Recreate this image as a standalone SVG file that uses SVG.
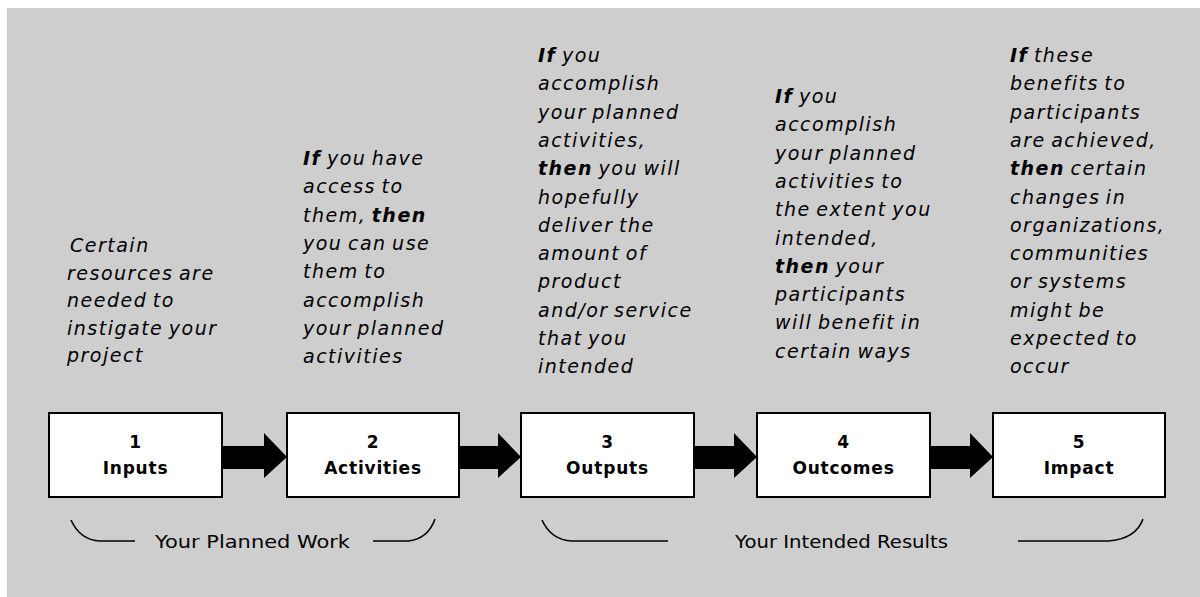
<svg xmlns="http://www.w3.org/2000/svg" width="1200" height="597" viewBox="0 0 1200 597">
<style>
.bg{fill:#cecece}
.box{fill:#ffffff;stroke:#000000;stroke-width:2}
.num{font-family:"DejaVu Sans",sans-serif;font-weight:bold;font-size:17px;letter-spacing:0.8px;text-anchor:middle;fill:#000}
.desc{font-family:"DejaVu Sans",sans-serif;font-style:italic;font-size:19px;letter-spacing:1.5px;word-spacing:-2px;fill:#000}
.desc .b{font-weight:bold}
.brace{fill:none;stroke:#000;stroke-width:1.6}
.cap{font-family:"DejaVu Sans",sans-serif;font-size:17px;fill:#000}
.arrow{fill:#000}
</style>
<rect width="1200" height="597" fill="#ffffff"/>
<rect class="bg" x="7" y="8" width="1193" height="589"/>

<g id="connectors">
  <path class="arrow" d="M222,446 H264 V433 L287,457 L264,478 V469 H222 Z"/>
  <path class="arrow" d="M459,446 H498 V433 L521,457 L498,478 V469 H459 Z"/>
  <path class="arrow" d="M694,446 H734 V433 L757,457 L734,478 V469 H694 Z"/>
  <path class="arrow" d="M930,446 H970 V433 L993,457 L970,478 V469 H930 Z"/>
</g>

<g id="node1">
  <rect class="box" x="49" y="413" width="173" height="84"/>
  <text class="num" x="135.5" y="448">1</text>
  <text class="num" x="135.5" y="474">Inputs</text>
</g>
<g id="node2">
  <rect class="box" x="287" y="413" width="172" height="84"/>
  <text class="num" x="373" y="448">2</text>
  <text class="num" x="373" y="474">Activities</text>
</g>
<g id="node3">
  <rect class="box" x="521" y="413" width="173" height="84"/>
  <text class="num" x="607.5" y="448">3</text>
  <text class="num" x="607.5" y="474">Outputs</text>
</g>
<g id="node4">
  <rect class="box" x="757" y="413" width="173" height="84"/>
  <text class="num" x="843.5" y="448">4</text>
  <text class="num" x="843.5" y="474">Outcomes</text>
</g>
<g id="node5">
  <rect class="box" x="993" y="413" width="172" height="84"/>
  <text class="num" x="1079" y="448">5</text>
  <text class="num" x="1079" y="474">Impact</text>
</g>

<g id="text1">
  <text class="desc" x="68" y="252">
    <tspan x="70">Certain</tspan>
    <tspan x="67" dy="27.5">resources are</tspan>
    <tspan x="67" dy="27.5">needed to</tspan>
    <tspan x="67" dy="27.5">instigate your</tspan>
    <tspan x="67" dy="27.5">project</tspan>
  </text>
</g>
<g id="text2">
  <text class="desc" x="303" y="165">
    <tspan x="303"><tspan class="b">If</tspan> you have</tspan>
    <tspan x="303" dy="28.3">access to</tspan>
    <tspan x="303" dy="28.3">them, <tspan class="b">then</tspan></tspan>
    <tspan x="303" dy="28.3">you can use</tspan>
    <tspan x="303" dy="28.3">them to</tspan>
    <tspan x="303" dy="28.3">accomplish</tspan>
    <tspan x="303" dy="28.3">your planned</tspan>
    <tspan x="303" dy="28.3">activities</tspan>
  </text>
</g>
<g id="text3">
  <text class="desc" x="538" y="62">
    <tspan x="538"><tspan class="b">If</tspan> you</tspan>
    <tspan x="538" dy="28.3">accomplish</tspan>
    <tspan x="538" dy="28.3">your planned</tspan>
    <tspan x="538" dy="28.3">activities,</tspan>
    <tspan x="538" dy="28.3"><tspan class="b">then</tspan> you will</tspan>
    <tspan x="538" dy="28.3">hopefully</tspan>
    <tspan x="538" dy="28.3">deliver the</tspan>
    <tspan x="538" dy="28.3">amount of</tspan>
    <tspan x="538" dy="28.3">product</tspan>
    <tspan x="538" dy="28.3">and/or service</tspan>
    <tspan x="538" dy="28.3">that you</tspan>
    <tspan x="538" dy="28.3">intended</tspan>
  </text>
</g>
<g id="text4">
  <text class="desc" x="775" y="103">
    <tspan x="775"><tspan class="b">If</tspan> you</tspan>
    <tspan x="775" dy="28.3">accomplish</tspan>
    <tspan x="775" dy="28.3">your planned</tspan>
    <tspan x="775" dy="28.3">activities to</tspan>
    <tspan x="775" dy="28.3">the extent you</tspan>
    <tspan x="775" dy="28.3">intended,</tspan>
    <tspan x="775" dy="28.3"><tspan class="b">then</tspan> your</tspan>
    <tspan x="775" dy="28.3">participants</tspan>
    <tspan x="775" dy="28.3">will benefit in</tspan>
    <tspan x="775" dy="28.3">certain ways</tspan>
  </text>
</g>
<g id="text5">
  <text class="desc" x="1010" y="62">
    <tspan x="1010"><tspan class="b">If</tspan> these</tspan>
    <tspan x="1010" dy="28.3">benefits to</tspan>
    <tspan x="1010" dy="28.3">participants</tspan>
    <tspan x="1010" dy="28.3">are achieved,</tspan>
    <tspan x="1010" dy="28.3"><tspan class="b">then</tspan> certain</tspan>
    <tspan x="1010" dy="28.3">changes in</tspan>
    <tspan x="1010" dy="28.3">organizations,</tspan>
    <tspan x="1010" dy="28.3">communities</tspan>
    <tspan x="1010" dy="28.3">or systems</tspan>
    <tspan x="1010" dy="28.3">might be</tspan>
    <tspan x="1010" dy="28.3">expected to</tspan>
    <tspan x="1010" dy="28.3">occur</tspan>
  </text>
</g>

<g id="braces">
  <path class="brace" d="M71,520 Q80,540 100,541 L135,541"/>
  <path class="brace" d="M373,541 L408,541 Q428,539 435,519"/>
  <text class="cap" x="155" y="548" textLength="195" lengthAdjust="spacingAndGlyphs">Your Planned Work</text>
  <path class="brace" d="M542,520 Q551,540 572,541 L668,541"/>
  <path class="brace" d="M1018,541 L1108,541 Q1136,539 1143,519"/>
  <text class="cap" x="735" y="548" textLength="213" lengthAdjust="spacingAndGlyphs">Your Intended Results</text>
</g>
</svg>
